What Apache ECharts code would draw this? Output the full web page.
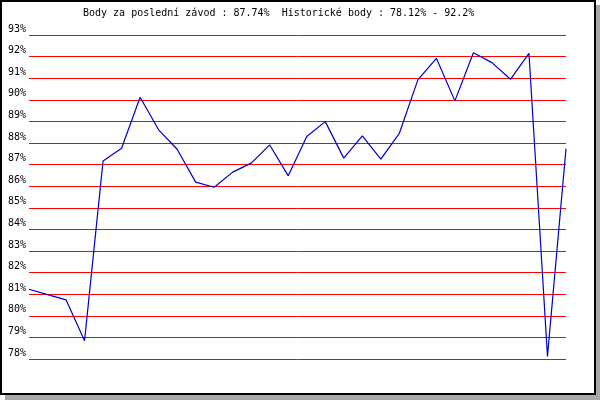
<!DOCTYPE html>
<html>
<head>
<meta charset="utf-8">
<script src="https://cdn.jsdelivr.net/npm/echarts@6/dist/echarts.min.js"></script>
<style>
  html, body { margin: 0; padding: 0; background: #fff; }
  #main { width: 600px; height: 400px; }
</style>
</head>
<body>
<div id="main"></div>
<script>
// race index (one point per race)
var races = [];
for (var i = 1; i <= 30; i++) races.push(String(i));

// score per race in %
var scores = [
  81.23, 80.98, 80.74, 78.85, 87.17, 87.76, 90.12, 88.61, 87.71, 86.19,
  85.95, 86.65, 87.07, 87.91, 86.48, 88.30, 88.99, 87.30, 88.33, 87.25,
  88.45, 90.92, 91.92, 89.95, 92.18, 91.72, 90.95, 92.15, 78.12, 87.74
];

var yMin = 78;
var yMax = 93;
var titleText = "Body za poslední závod : 87.74%  Historické body : 78.12% - 92.2%";

var chart = echarts.init(document.getElementById('main'), null, { renderer: 'canvas' });

var option = {
  animation: false,
  backgroundColor: '#fff',
  textStyle: { fontFamily: 'DejaVu Sans Mono', fontSize: 10, color: '#000' },
  graphic: [
    // shadow
    { type: 'rect', shape: { x: 5, y: 395, width: 595, height: 5 }, style: { fill: '#a8a8a8' }, silent: true },
    { type: 'rect', shape: { x: 596, y: 5, width: 4, height: 395 }, style: { fill: '#a8a8a8' }, silent: true },
    // frame
    { type: 'rect', shape: { x: 1, y: 1, width: 594, height: 393 }, style: { fill: null, stroke: '#000', lineWidth: 2 }, silent: true },
    {
      type: 'text', left: 83, top: 8,
      style: { text: titleText, font: '10px "DejaVu Sans Mono"', fill: '#000' }
    }
  ],
  grid: { left: 29, right: 34, top: 35, bottom: 41 },
  xAxis: {
    type: 'category',
    data: races,
    boundaryGap: false,
    axisLine: { show: false },
    axisTick: { show: false },
    axisLabel: { show: false },
    splitLine: { show: false }
  },
  yAxis: {
    type: 'value',
    min: yMin,
    max: yMax,
    interval: 1,
    axisLine: { show: false },
    axisTick: { show: false },
    axisLabel: {
      formatter: '{value}%',
      fontFamily: 'DejaVu Sans Mono',
      fontSize: 10,
      color: '#000',
      margin: 3,
      verticalAlign: 'bottom',
      padding: [0, 0, 1, 0]
    },
    splitLine: { lineStyle: { color: '#ff0000', width: 1 } }
  },
  series: [{
    type: 'line',
    data: scores,
    symbol: 'none',
    lineStyle: { color: '#0000cc', width: 1.2 }
  }]
};

chart.setOption(option);
</script>
</body>
</html>
